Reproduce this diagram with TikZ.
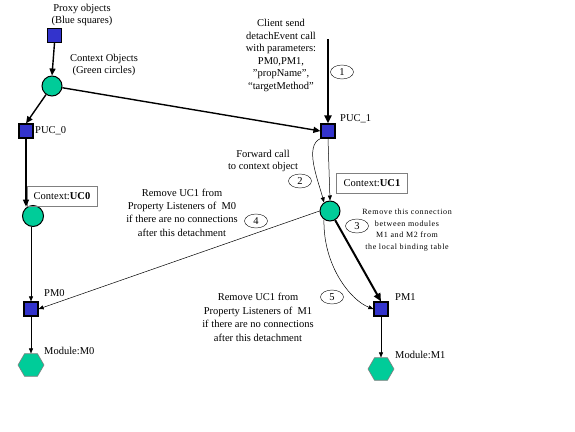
\documentclass[tikz,border=0pt]{standalone}
\usepackage{fontspec}
\setmainfont{Liberation Serif}
\newfontfamily\spacedfont[LetterSpace=8]{Liberation Serif}
\usetikzlibrary{arrows.meta,shapes.geometric,calc}
\definecolor{pblue}{HTML}{3333CC}
\definecolor{cgreen}{HTML}{00CC99}
\begin{document}
\begin{tikzpicture}[x=1pt,y=-1pt,
  proxysq/.style={rectangle,draw=black,line width=1.2pt,fill=pblue,minimum size=14pt,inner sep=0pt},
  ctxcirc/.style={circle,draw=black,line width=1pt,fill=cgreen,minimum size=20pt,inner sep=0pt},
  modhex/.style={regular polygon,regular polygon sides=6,draw=gray,line width=0.6pt,fill=cgreen,minimum size=26pt,inner sep=0pt},
  numell/.style={ellipse,draw=black,line width=0.4pt,minimum width=23pt,minimum height=14pt,inner sep=0pt,font=\fontsize{10.5}{12}\selectfont},
  txt/.style={align=center,inner sep=0pt,font=\fontsize{10.5}{12.6}\selectfont},
  smalltxt/.style={align=center,inner sep=0pt,font=\spacedfont\fontsize{8}{11.5}\selectfont},
  lbl/.style={anchor=west,inner sep=0pt,font=\fontsize{10.5}{12}\selectfont},
  ctxbox/.style={rectangle,draw=gray,line width=0.4pt,minimum width=70pt,minimum height=20pt,inner sep=0pt,font=\fontsize{10.5}{12}\selectfont},
  thickarr/.style={line width=2pt,-{Triangle[length=8pt,width=7pt]}},
  medarr/.style={line width=1.4pt,-{Triangle[length=7pt,width=6pt]}},
  thinarr/.style={line width=0.5pt,-{Triangle[length=5pt,width=4pt]}}
]
\useasboundingbox (0,0) rectangle (575,431);

% nodes
\node[proxysq] (proxy) at (54.5,35.5) {};
\node[ctxcirc] (ctx) at (52,86) {};
\node[proxysq] (puc0) at (26,131) {};
\node[proxysq] (puc1) at (328,131) {};
\node[ctxcirc,minimum size=21pt] (uc0) at (33,216) {};
\node[ctxcirc] (uc1) at (330,211) {};
\node[proxysq] (pm0) at (31,309) {};
\node[proxysq] (pm1) at (381,309) {};
\node[modhex] (m0) at (31,365) {};
\node[modhex] (m1) at (381,369) {};

% texts
\node[txt] (tproxy) at (82,15) {Proxy objects\\(Blue squares)};
\node[txt] (tctx) at (104,65) {Context Objects\\(Green circles)};
\node[lbl] (lpuc0) at (35,131) {PUC\_0};
\node[lbl] (lpuc1) at (340,119) {PUC\_1};
\node[txt] (tclient) at (281,55.5) {Client send\\detachEvent call\\with parameters:\\PM0,PM1,\\"propName",\\“targetMethod"};
\node[ctxbox] (bux0) at (62,196) {Context:\textbf{UC0}};
\node[ctxbox,minimum width=71pt] (bux1) at (372,183) {Context:\textbf{UC1}};
\node[txt] (tfwd) at (263,161) {Forward call\\to context object};
\node[txt,font=\fontsize{10.5}{13.3}\selectfont] (trem0) at (182,212.5) {Remove UC1 from\\Property Listeners of~ M0\\if there are no connections\\after this detachment};
\node[smalltxt] (trem) at (407,230) {Remove this connection\\between modules\\M1 and M2 from\\the local binding table};
\node[txt,font=\fontsize{10.5}{13.5}\selectfont] (trem1) at (258,317.5) {Remove UC1 from\\Property Listeners of~ M1\\if there are no connections\\after this detachment};
\node[lbl] (lpm0) at (44,293) {PM0};
\node[lbl] (lm0) at (44,351) {Module:M0};
\node[lbl] (lpm1) at (395,297) {PM1};
\node[lbl] (lm1) at (395,355) {Module:M1};

% numbered ellipses
\node[numell] (n1) at (342,72) {1};
\node[numell] (n2) at (300,181) {2};
\node[numell] (n3) at (357,226) {3};
\node[numell] (n4) at (256,221) {4};
\node[numell] (n5) at (332,297) {5};

% connectors
\coordinate (cstart) at (328,39);
\draw[medarr] (proxy.south) -- (ctx.north);
\draw[medarr] (ctx) -- (puc0.north);
\draw[medarr] (ctx) -- (puc1.west);
\draw[thickarr] (cstart) -- (puc1.north);
\draw[medarr] (puc0.south) -- (puc0.south |- uc0.122);
\draw[thinarr] (uc0.south -| pm0.north) -- (pm0.north);
\draw[thinarr] (pm0.south) -- (m0.north);
\draw[thinarr] (pm1.south) -- (m1.north);
\draw[thinarr] (puc1.south) -- (uc1.north);
\draw[thinarr] (puc1.south west) .. controls (304,146) and (318,180) .. (uc1.125);
\draw[thinarr] (uc1.west) -- (pm0.east);
\draw[thickarr] (uc1) -- (pm1.north);
\draw[thinarr] (uc1.235) .. controls (323,265) and (350,300) .. (pm1.west);
\end{tikzpicture}
\end{document}
